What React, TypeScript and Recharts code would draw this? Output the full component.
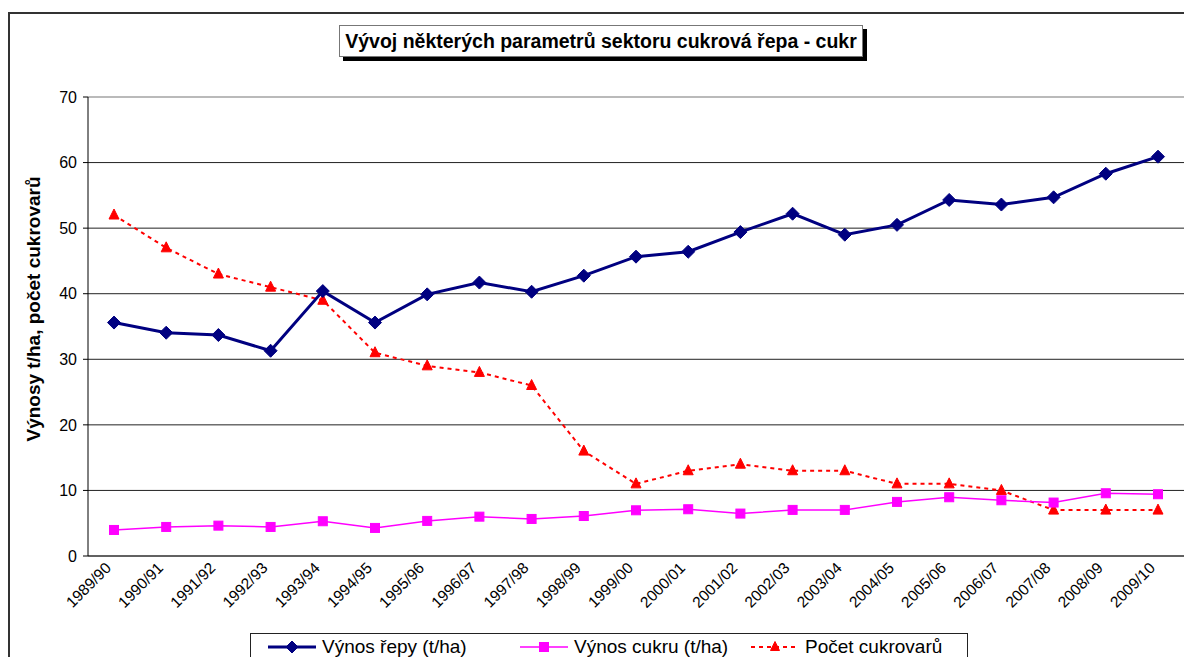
import { LineChart, Line, XAxis, YAxis, CartesianGrid, ReferenceLine, Legend, Label } from 'recharts';

const seasons = [
  '1989/90', '1990/91', '1991/92', '1992/93', '1993/94', '1994/95', '1995/96', '1996/97', '1997/98', '1998/99',
  '1999/00', '2000/01', '2001/02', '2002/03', '2003/04', '2004/05', '2005/06', '2006/07', '2007/08', '2008/09', '2009/10'
];
const vynosRepy = [35.6, 34.05, 33.7, 31.3, 40.4, 35.6, 39.9, 41.7, 40.3, 42.75, 45.65, 46.4, 49.4, 52.2, 49.0, 50.5, 54.3, 53.6, 54.7, 58.3, 60.9];
const vynosCukru = [3.97, 4.43, 4.63, 4.43, 5.3, 4.28, 5.35, 6.0, 5.65, 6.1, 6.97, 7.13, 6.47, 7.03, 7.03, 8.25, 8.96, 8.5, 8.15, 9.57, 9.42];
const pocetCukrovaru = [52, 47, 43, 41, 39, 31, 29, 28, 26, 16, 11, 13, 14, 13, 13, 11, 11, 10, 7, 7, 7];
const yTicks = [0, 10, 20, 30, 40, 50, 60, 70];
const boundaryTicks = Array.from({ length: seasons.length + 1 }, (_, i) => i);

const NAVY = '#000080';
const PINK = '#FF00FF';
const RED = '#FF0000';
const FONT = '"Liberation Sans", Arial, sans-serif';

const chartData = seasons.map((s, i) => ({
  season: s,
  repa: vynosRepy[i],
  cukr: vynosCukru[i],
  cukrovary: pocetCukrovaru[i],
}));

const Diamond = ({ cx, cy, r = 6 }: any) => (
  <path d={`M${cx},${cy - r} L${cx + r},${cy} L${cx},${cy + r} L${cx - r},${cy} Z`} fill={NAVY} stroke={NAVY} />
);
const Square = ({ cx, cy, s = 9 }: any) => (
  <rect x={cx - s / 2} y={cy - s / 2} width={s} height={s} fill={PINK} stroke={PINK} />
);
const Triangle = ({ cx, cy, s = 10 }: any) => (
  <path d={`M${cx},${cy - s / 2 - 1} L${cx + s / 2},${cy + s / 2 - 1} L${cx - s / 2},${cy + s / 2 - 1} Z`} fill={RED} stroke={RED} />
);

// legend item offsets inside the box (px from box left)
const legendItems = [
  { name: 'Výnos řepy (t/ha)', color: NAVY, width: 3, dash: undefined, Marker: Diamond, left: 17 },
  { name: 'Výnos cukru (t/ha)', color: PINK, width: 1.5, dash: undefined, Marker: Square, left: 269 },
  { name: 'Počet cukrovarů', color: RED, width: 2, dash: '4 4', Marker: Triangle, left: 500 },
];

const renderLegend = () => (
  <div style={{
    position: 'relative', border: '1px solid #222', height: 40, boxSizing: 'border-box',
    fontFamily: FONT, fontSize: 19, color: '#000', background: '#fff'
  }}>
    {legendItems.map(it => (
      <div key={it.name} style={{ position: 'absolute', left: it.left, top: 2, display: 'flex', alignItems: 'center', whiteSpace: 'nowrap' }}>
        <svg width={48} height={22} style={{ marginRight: 6 }}>
          <line x1={0} y1={11} x2={48} y2={11} stroke={it.color} strokeWidth={it.width} strokeDasharray={it.dash} />
          <it.Marker cx={24} cy={11} r={6} s={9} />
        </svg>
        <span>{it.name}</span>
      </div>
    ))}
  </div>
);

const SeasonTick = ({ x, y, payload }: any) => {
  const ax = x - 2;
  const ay = y + 5;
  return (
    <text x={ax} y={ay} transform={`rotate(-45, ${ax}, ${ay})`} textAnchor="end" fontSize={15.5} fill="#000" fontFamily={FONT}>
      {payload.value}
    </text>
  );
};

export default function App() {
  return (
    <div style={{ position: 'absolute', left: 0, top: 0, width: 1184, height: 657, overflow: 'hidden', background: '#fff', fontFamily: FONT }}>
      <div style={{ position: 'absolute', left: 8, top: 12, width: 1220, height: 720, border: '2px solid #333', boxSizing: 'border-box' }} />
      {/* legend height (40) is added to the bottom offset by recharts */}
      <LineChart width={1184} height={657} data={chartData} margin={{ top: 97, right: 0, left: 0, bottom: 1 }}>
        <CartesianGrid vertical={false} stroke="#222" />
        <ReferenceLine y={70} stroke="#c8c8c8" strokeWidth={1.5} />
        <XAxis
          dataKey="season"
          interval={0}
          height={60}
          padding={{ left: 26, right: 26 }}
          tickLine={false}
          axisLine={{ stroke: '#333' }}
          tick={<SeasonTick />}
        />
        <XAxis
          xAxisId="bounds"
          type="number"
          domain={[0, seasons.length]}
          ticks={boundaryTicks}
          height={0}
          tick={false}
          tickSize={5}
          tickLine={{ stroke: '#333' }}
          axisLine={false}
          allowDataOverflow
        />
        <YAxis
          domain={[0, 70]}
          ticks={yTicks}
          width={88}
          tickSize={5}
          tickMargin={6}
          axisLine={{ stroke: '#000' }}
          tickLine={{ stroke: '#000' }}
          tick={{ fontSize: 16, fill: '#000', fontFamily: FONT }}
        >
          <Label
            content={() => (
              <text x={40} y={309} transform="rotate(-90, 40, 309)" textAnchor="middle" fontSize={19} fontWeight="bold" fill="#000" fontFamily={FONT}>
                Výnosy t/ha, počet cukrovarů
              </text>
            )}
          />
        </YAxis>
        <Legend content={renderLegend} wrapperStyle={{ left: 250, top: 633, width: 718, bottom: 'auto' }} />
        <Line
          dataKey="cukrovary"
          name="Počet cukrovarů"
          stroke={RED}
          strokeWidth={2}
          strokeDasharray="4 4"
          dot={(p: any) => <Triangle key={`t-${p.index}`} cx={p.cx} cy={p.cy} />}
          activeDot={false}
          isAnimationActive={false}
        />
        <Line
          dataKey="cukr"
          name="Výnos cukru (t/ha)"
          stroke={PINK}
          strokeWidth={1.5}
          dot={(p: any) => <Square key={`s-${p.index}`} cx={p.cx} cy={p.cy} />}
          activeDot={false}
          isAnimationActive={false}
        />
        <Line
          dataKey="repa"
          name="Výnos řepy (t/ha)"
          stroke={NAVY}
          strokeWidth={3}
          dot={(p: any) => <Diamond key={`d-${p.index}`} cx={p.cx} cy={p.cy} r={6.5} />}
          activeDot={false}
          isAnimationActive={false}
        />
      </LineChart>
      <div style={{
        position: 'absolute', left: 339, top: 25, width: 524, height: 32, boxSizing: 'border-box',
        border: '1px solid #777', boxShadow: '4px 4px 0 #000', background: '#fff',
        display: 'flex', alignItems: 'center', justifyContent: 'center',
        fontWeight: 'bold', fontSize: 19.5, color: '#000', whiteSpace: 'nowrap'
      }}>
        Vývoj některých parametrů sektoru cukrová řepa - cukr
      </div>
    </div>
  );
}
